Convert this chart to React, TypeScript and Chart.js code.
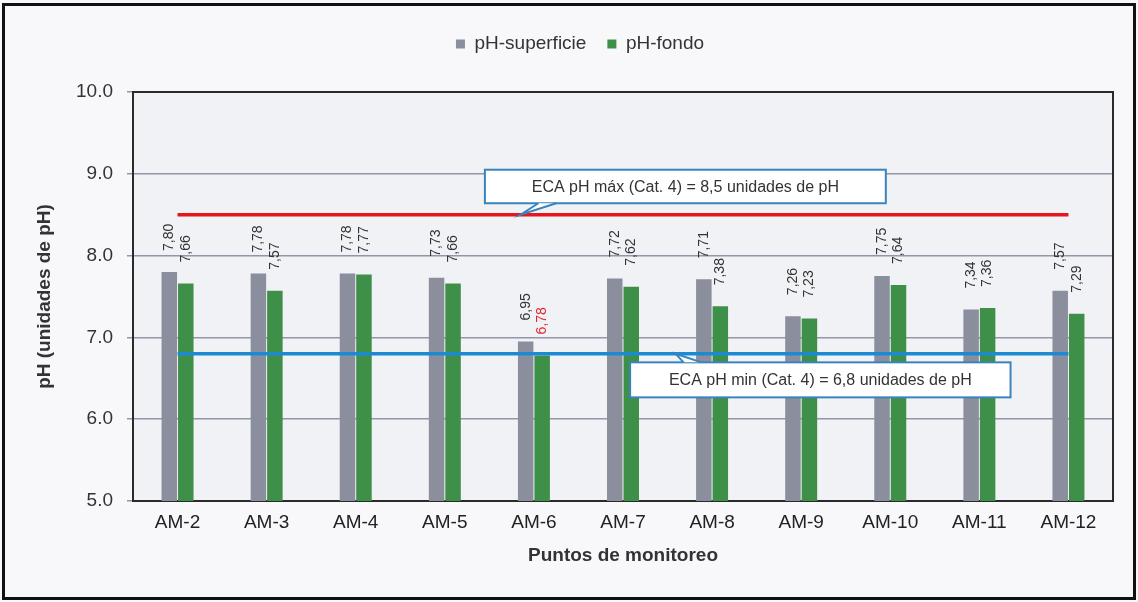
import React, { useEffect, useRef } from "react";
import { Chart, registerables } from "chart.js";

Chart.register(...registerables);

// ---- data ----
const categories = ["AM-2", "AM-3", "AM-4", "AM-5", "AM-6", "AM-7", "AM-8", "AM-9", "AM-10", "AM-11", "AM-12"];
const phSuperficie = [7.8, 7.78, 7.78, 7.73, 6.95, 7.72, 7.71, 7.26, 7.75, 7.34, 7.57];
const phFondo = [7.66, 7.57, 7.77, 7.66, 6.78, 7.62, 7.38, 7.23, 7.64, 7.36, 7.29];
const ecaMaxLine = [8.5, 8.5, 8.5, 8.5, 8.5, 8.5, 8.5, 8.5, 8.5, 8.5, 8.5];
const ecaMinLine = [6.8, 6.8, 6.8, 6.8, 6.8, 6.8, 6.8, 6.8, 6.8, 6.8, 6.8];
const seriesNames = ["pH-superficie", "pH-fondo"];
const yMin = 5;
const yMax = 10;
const yStep = 1;
const xTitle = "Puntos de monitoreo";
const yTitle = "pH (unidades de pH)";
const ecaMaxText = "ECA pH máx (Cat. 4) = 8,5 unidades de pH";
const ecaMinText = "ECA pH min (Cat. 4) = 6,8 unidades de pH";
// labels shown in red: [datasetIndex, categoryIndex]
const redLabels = [[1, 4]];

// callouts, in data coordinates (category index / pH)
const callouts = [
  { text: ecaMaxText, x0: 3.45, x1: 7.95, y0: 8.64, y1: 9.05, tipX: 3.85, tipY: 8.5, baseA: 4.05, baseB: 4.25, baseY: 8.64 },
  { text: ecaMinText, x0: 5.08, x1: 9.35, y0: 6.267, y1: 6.695, tipX: 5.59, tipY: 6.8, baseA: 5.68, baseB: 5.88, baseY: 6.695 },
];

const FONT = "'Liberation Sans', Arial, sans-serif";
const GREY = "#8a8e9d";
const GREEN = "#3e8f48";

const framePlugin = {
  id: "frame",
  afterInit(chart: any) {
    const lg = chart.legend;
    if (lg) {
      const f = lg.fit.bind(lg);
      lg.fit = function () {
        f();
        this.height += 28.5;
      };
    }
  },
  beforeDraw(chart: any) {
    const { ctx, width, height, chartArea: a } = chart;
    ctx.save();
    ctx.fillStyle = "#f8f8fa";
    ctx.fillRect(0, 0, width, height);
    ctx.fillStyle = "#f1f2f6";
    ctx.fillRect(a.left, a.top, a.right - a.left, a.bottom - a.top);
    ctx.strokeStyle = "#111";
    ctx.lineWidth = 3;
    ctx.strokeRect(3.5, 4.5, width - 7, height - 8);
    ctx.restore();
  },
  beforeDatasetsDraw(chart: any) {
    const { ctx, chartArea: a } = chart;
    ctx.save();
    ctx.strokeStyle = "#2a2a2a";
    ctx.lineWidth = 2;
    ctx.strokeRect(a.left, a.top, a.right - a.left, a.bottom - a.top);
    ctx.restore();
  },
};

const labelPlugin = {
  id: "valueLabels",
  afterDatasetsDraw(chart: any) {
    const { ctx } = chart;
    ctx.save();
    ctx.font = `14px ${FONT}`;
    ctx.textAlign = "left";
    ctx.textBaseline = "middle";
    [0, 1].forEach((di) => {
      const meta = chart.getDatasetMeta(di);
      const vals = chart.data.datasets[di].data as number[];
      meta.data.forEach((bar: any, i: number) => {
        const red = redLabels.some(([d, c]) => d === di && c === i);
        ctx.fillStyle = red ? "#e0262c" : "#333";
        ctx.save();
        ctx.translate(bar.x, bar.y - 21);
        ctx.rotate(-Math.PI / 2);
        ctx.fillText(vals[i].toFixed(2).replace(".", ","), 0, 0);
        ctx.restore();
      });
    });
    ctx.restore();
  },
};

const calloutPlugin = {
  id: "callouts",
  afterDraw(chart: any) {
    const { ctx } = chart;
    const xs = chart.scales.x;
    const ys = chart.scales.y;
    ctx.save();
    callouts.forEach((c) => {
      const l = xs.getPixelForValue(c.x0);
      const r = xs.getPixelForValue(c.x1);
      const t = ys.getPixelForValue(c.y1);
      const b = ys.getPixelForValue(c.y0);
      ctx.fillStyle = "#ffffff";
      ctx.fillRect(l, t, r - l, b - t);
      ctx.strokeStyle = "#3a84bd";
      ctx.lineWidth = 2;
      ctx.strokeRect(l, t, r - l, b - t);
      // tail
      const tx = xs.getPixelForValue(c.tipX);
      const ty = ys.getPixelForValue(c.tipY);
      const ba = xs.getPixelForValue(c.baseA);
      const bb = xs.getPixelForValue(c.baseB);
      const by = ys.getPixelForValue(c.baseY);
      ctx.beginPath();
      ctx.moveTo(ba, by);
      ctx.lineTo(tx, ty);
      ctx.lineTo(bb, by);
      ctx.closePath();
      ctx.fillStyle = "#ffffff";
      ctx.fill();
      ctx.beginPath();
      ctx.moveTo(ba, by);
      ctx.lineTo(tx, ty);
      ctx.lineTo(bb, by);
      ctx.stroke();
      ctx.fillStyle = "#333";
      ctx.font = `16px ${FONT}`;
      ctx.textAlign = "center";
      ctx.textBaseline = "middle";
      ctx.fillText(c.text, (l + r) / 2, (t + b) / 2 + 1);
    });
    ctx.restore();
  },
};

export default function App() {
  const ref = useRef<HTMLCanvasElement | null>(null);

  useEffect(() => {
    if (!ref.current) return;
    const chart = new Chart(ref.current, {
      type: "bar",
      data: {
        labels: categories,
        datasets: [
          {
            type: "bar",
            label: seriesNames[0],
            data: phSuperficie,
            backgroundColor: GREY,
            order: 2,
            barPercentage: 0.94,
            categoryPercentage: 0.37,
          },
          {
            type: "bar",
            label: seriesNames[1],
            data: phFondo,
            backgroundColor: GREEN,
            order: 2,
            barPercentage: 0.94,
            categoryPercentage: 0.37,
          },
          {
            type: "line",
            label: "ECA máx",
            data: ecaMaxLine,
            borderColor: "#e5161d",
            borderWidth: 3.5,
            pointRadius: 0,
            order: 1,
          },
          {
            type: "line",
            label: "ECA min",
            data: ecaMinLine,
            borderColor: "#1c8ad2",
            borderWidth: 3.5,
            pointRadius: 0,
            order: 1,
          },
        ] as any,
      },
      options: {
        animation: false,
        responsive: false,
        devicePixelRatio: 1,
        layout: { padding: { top: 13.5, left: 47, right: 25, bottom: 0 } },
        plugins: {
          tooltip: { enabled: false },
          legend: {
            position: "top",
            labels: {
              filter: (item: any) => item.datasetIndex < 2,
              boxWidth: 9,
              boxHeight: 9,
              padding: 21,
              color: "#333",
              font: { family: FONT, size: 19 },
            },
          },
        },
        scales: {
          x: {
            grid: { display: false, drawTicks: false },
            border: { display: true, color: "#111", width: 2 },
            ticks: { color: "#222", font: { family: FONT, size: 19 }, padding: 10 },
            title: {
              display: true,
              text: xTitle,
              color: "#333",
              font: { family: FONT, size: 19, weight: "bold" },
              padding: { top: 0, bottom: 35 },
            },
            afterFit: (s: any) => {
              s.height = 101;
            },
          },
          y: {
            min: yMin,
            max: yMax,
            ticks: {
              stepSize: yStep,
              color: "#333",
              font: { family: FONT, size: 19 },
              padding: 14,
              callback: (v: any) => Number(v).toFixed(1),
            },
            grid: { color: "#9296a6", lineWidth: 1.5, tickLength: 6 },
            border: { display: true, color: "#111", width: 2 },
            title: {
              display: true,
              text: yTitle,
              color: "#333",
              font: { family: FONT, size: 19, weight: "bold" },
              padding: { top: -14, bottom: 0 },
            },
            afterFit: (s: any) => {
              s.width = 86;
            },
          },
        },
      },
      plugins: [framePlugin, labelPlugin, calloutPlugin],
    } as any);
    return () => chart.destroy();
  }, []);

  return (
    <div style={{ position: "fixed", left: 0, top: 0, width: 1138, height: 602 }}>
      <canvas ref={ref} width={1138} height={602} style={{ display: "block" }} />
    </div>
  );
}
